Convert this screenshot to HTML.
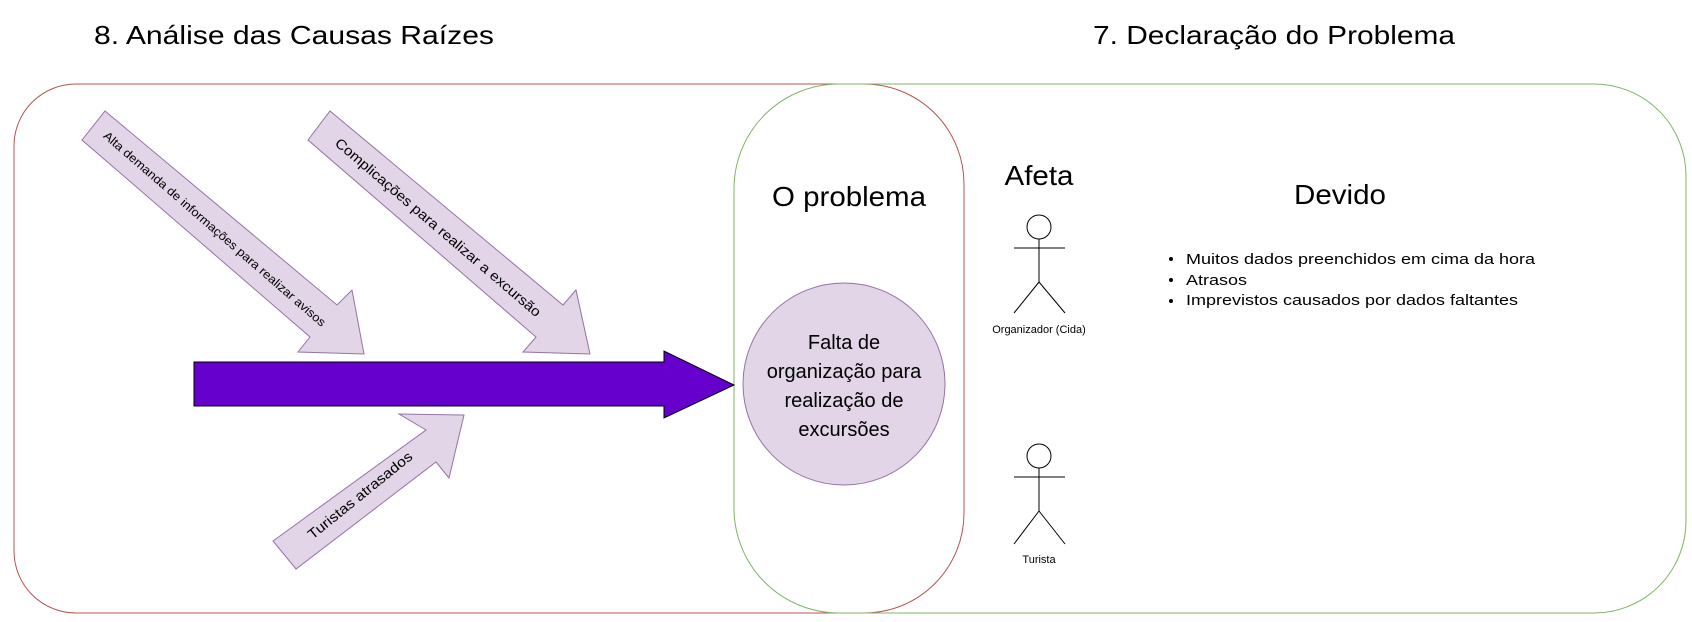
<!DOCTYPE html>
<html><head><meta charset="utf-8"><style>
html,body{margin:0;padding:0;background:#fff;}
svg{display:block;font-family:"Liberation Sans",sans-serif;}
</style></head><body>
<svg width="1692" height="622" viewBox="0 0 1692 622" xmlns="http://www.w3.org/2000/svg">
<rect x="0" y="0" width="1692" height="622" fill="#fff"/>
<text x="94" y="44" font-size="26" fill="#000" textLength="400" lengthAdjust="spacingAndGlyphs">8. Análise das Causas Raízes</text>
<text x="1093" y="44" font-size="26" fill="#000" textLength="362" lengthAdjust="spacingAndGlyphs">7. Declaração do Problema</text>

<!-- red box: left radius 62, right radius 100 -->
<path d="M76,84 H864 A100,100 0 0 1 964,184 V513 A100,100 0 0 1 864,613 H76 A62,62 0 0 1 14,551 V146 A62,62 0 0 1 76,84 Z" fill="none" stroke="#b85450" stroke-width="1"/>
<!-- green box: left radius 105, right radius 92 -->
<path d="M839,84 H1594 A92,92 0 0 1 1686,176 V521 A92,92 0 0 1 1594,613 H839 A105,105 0 0 1 734,508 V189 A105,105 0 0 1 839,84 Z" fill="none" stroke="#82b366" stroke-width="1"/>

<!-- small arrows -->
<polygon points="105,111 337,305 352,290 364,354 298,352 310,337 82,140" fill="#e1d5e7" stroke="#9673a6" stroke-width="1"/>
<polygon points="330,111 563,305 576,290 590,354 523,352 536,337 308,140" fill="#e1d5e7" stroke="#9673a6" stroke-width="1"/>
<polygon points="273,541 426,430 399,414 464,415 449,478 436,462 296,569" fill="#e1d5e7" stroke="#9673a6" stroke-width="1"/>

<text transform="translate(212,232) rotate(41)" text-anchor="middle" font-size="12" textLength="290" lengthAdjust="spacingAndGlyphs">Alta demanda de informações para realizar avisos</text>
<text transform="translate(435,231) rotate(40.6)" text-anchor="middle" font-size="14" textLength="266" lengthAdjust="spacingAndGlyphs">Complicações para realizar a excursão</text>
<text transform="translate(363,499) rotate(-39)" text-anchor="middle" font-size="14" textLength="130" lengthAdjust="spacingAndGlyphs">Turistas atrasados</text>

<!-- big arrow -->
<polygon points="194,362 664,362 664,351 734,385 664,418 664,406 194,406" fill="#6600cc" stroke="#000" stroke-width="1"/>

<!-- O problema -->
<text x="849" y="206" text-anchor="middle" font-size="28" textLength="154" lengthAdjust="spacingAndGlyphs">O problema</text>
<circle cx="844" cy="384" r="101" fill="#e1d5e7" stroke="#9673a6" stroke-width="1"/>
<g font-size="20" text-anchor="middle" fill="#000">
<text x="844" y="349">Falta de</text>
<text x="844" y="378">organização para</text>
<text x="844" y="407">realização de</text>
<text x="844" y="436">excursões</text>
</g>

<!-- Afeta / Devido -->
<text x="1039" y="185" text-anchor="middle" font-size="28" textLength="69" lengthAdjust="spacingAndGlyphs">Afeta</text>
<text x="1340" y="204" text-anchor="middle" font-size="28" textLength="92" lengthAdjust="spacingAndGlyphs">Devido</text>

<!-- stick figures -->
<g fill="none" stroke="#000" stroke-width="1">
<circle cx="1039" cy="227" r="12" fill="#fff"/>
<line x1="1039" y1="239" x2="1039" y2="282"/>
<line x1="1014" y1="248" x2="1065" y2="248"/>
<line x1="1039" y1="282" x2="1014" y2="313"/>
<line x1="1039" y1="282" x2="1065" y2="313"/>
<circle cx="1039" cy="456" r="12" fill="#fff"/>
<line x1="1039" y1="468" x2="1039" y2="511"/>
<line x1="1014" y1="477" x2="1065" y2="477"/>
<line x1="1039" y1="511" x2="1014" y2="544"/>
<line x1="1039" y1="511" x2="1065" y2="544"/>
</g>
<text x="1039" y="333" text-anchor="middle" font-size="11">Organizador (Cida)</text>
<text x="1039" y="563" text-anchor="middle" font-size="11">Turista</text>

<!-- bullets -->
<g font-size="15" fill="#000">
<circle cx="1171" cy="259" r="2"/>
<circle cx="1171" cy="280" r="2"/>
<circle cx="1171" cy="301" r="2"/>
<text x="1186" y="264" textLength="349" lengthAdjust="spacingAndGlyphs">Muitos dados preenchidos em cima da hora</text>
<text x="1186" y="285" textLength="61" lengthAdjust="spacingAndGlyphs">Atrasos</text>
<text x="1186" y="305" textLength="332" lengthAdjust="spacingAndGlyphs">Imprevistos causados por dados faltantes</text>
</g>
</svg>
</body></html>
